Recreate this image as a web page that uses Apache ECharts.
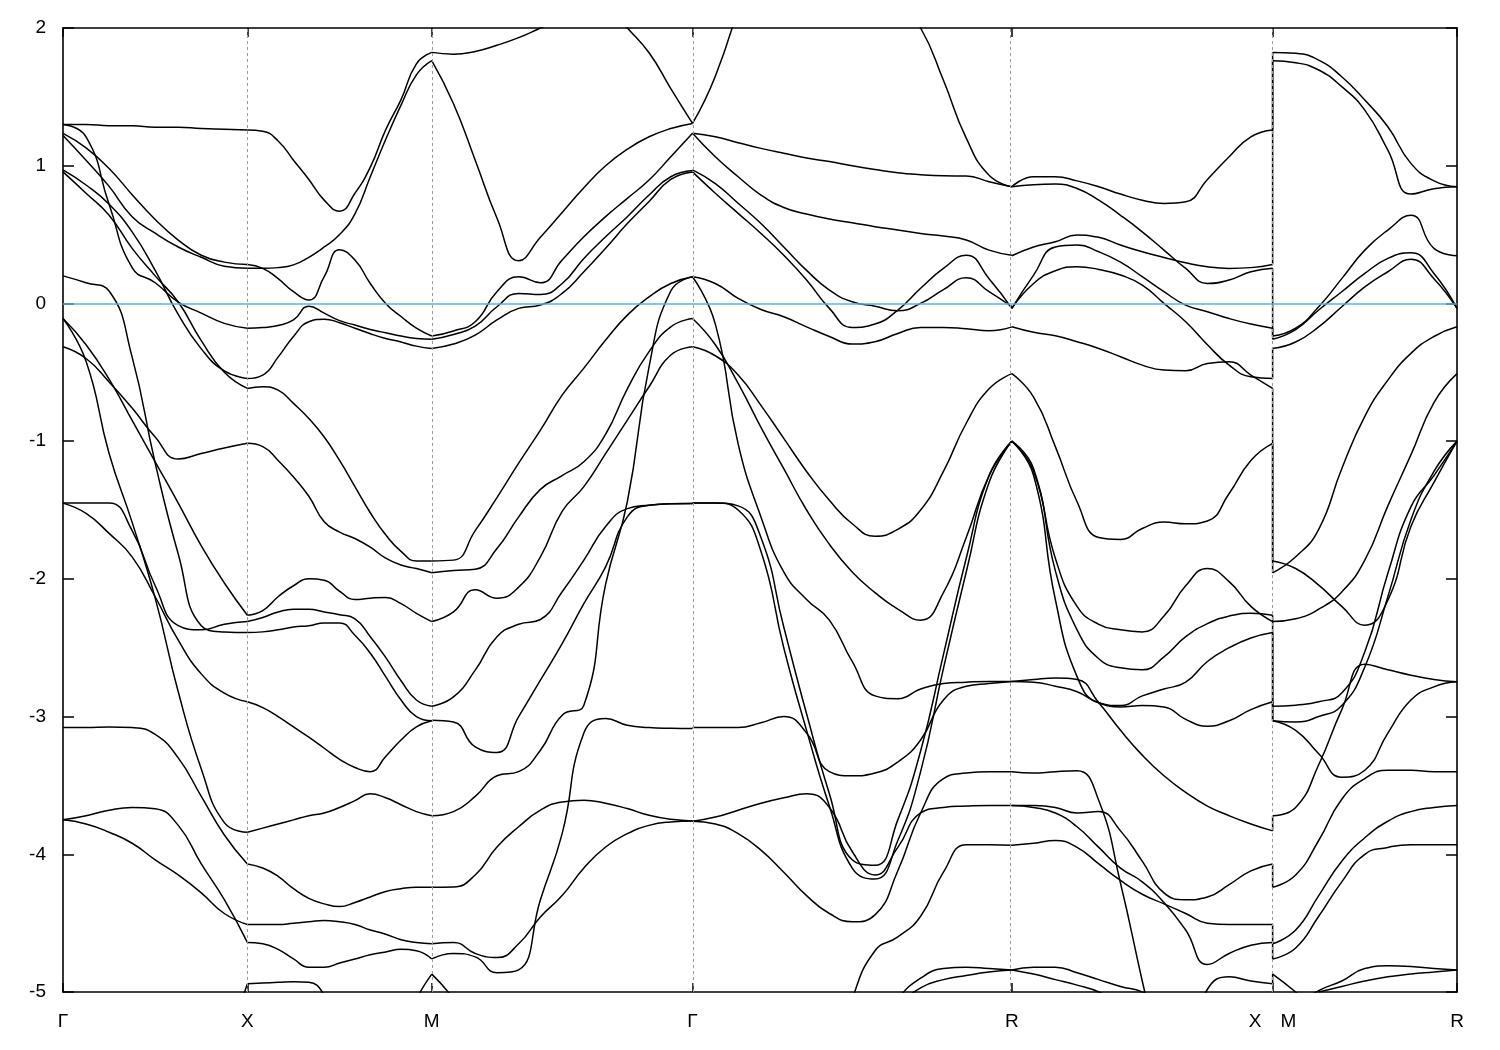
<!DOCTYPE html>
<html><head><meta charset="utf-8">
<script src="https://cdn.jsdelivr.net/npm/echarts@6/dist/echarts.min.js"></script>
<style>html,body{margin:0;padding:0;background:#fff}#c{width:1500px;height:1050px}</style>
</head><body><div id="c"></div>
<script>
// high-symmetry points (path length) and labels
const kPoints = [0, 0.5, 1.0, 1.7071, 2.5731, 3.2802, 3.7802];
const kLabels = ['Γ', 'X', 'M', 'Γ', 'R', 'X\u2002\u2002M', 'R'];
const yTicks = [-5, -4, -3, -2, -1, 0, 1, 2];
const fermiLevel = 0;

// Γ-X (9 samples)
const bandsGX = [
 [1.30,1.30,1.29,1.29,1.28,1.28,1.27,1.265,1.26],
 [1.30,1.21,0.72,0.26,0.15,0.01,-0.07,-0.145,-0.18],
 [1.235,1.13,0.98,0.79,0.61,0.46,0.35,0.30,0.283],
 [1.22,1.04,0.85,0.63,0.51,0.41,0.335,0.27,0.255],
 [0.97,0.86,0.72,0.52,0.24,-0.08,-0.33,-0.49,-0.545],
 [0.955,0.80,0.64,0.40,0.20,0.01,-0.27,-0.50,-0.617],
 [0.20,0.15,0.09,-0.39,-1.16,-1.82,-2.34,-2.385,-2.39],
 [-0.11,-0.42,-1.09,-1.59,-2.14,-2.82,-3.38,-3.77,-3.84],
 [-0.11,-0.30,-0.55,-0.85,-1.15,-1.45,-1.76,-2.03,-2.264],
 [-0.315,-0.40,-0.57,-0.76,-0.97,-1.13,-1.09,-1.05,-1.016],
 [-1.45,-1.45,-1.45,-1.65,-2.05,-2.34,-2.37,-2.33,-2.31],
 [-1.45,-1.525,-1.67,-1.84,-2.13,-2.445,-2.69,-2.83,-2.893],
 [-3.08,-3.08,-3.075,-3.08,-3.13,-3.30,-3.58,-3.86,-4.07],
 [-3.75,-3.72,-3.68,-3.66,-3.67,-3.79,-4.07,-4.33,-4.64],
 [-3.75,-3.78,-3.84,-3.92,-4.04,-4.15,-4.28,-4.43,-4.51],
 [null,null,null,null,null,null,-6.0,-5.45,-4.94]
];
// X-M (13 samples)
const bandsXM = [
 [1.26,1.25,1.18,1.04,0.90,0.75,0.67,0.80,0.99,1.26,1.48,1.74,1.823],
 [0.255,0.255,0.26,0.28,0.335,0.41,0.50,0.65,0.92,1.19,1.44,1.66,1.763],
 [0.283,0.255,0.18,0.085,0.025,0.195,0.39,0.315,0.145,0.0,-0.095,-0.18,-0.237],
 [-0.18,-0.175,-0.16,-0.12,-0.02,-0.07,-0.125,-0.157,-0.19,-0.213,-0.237,-0.254,-0.26],
 [-0.545,-0.52,-0.39,-0.24,-0.133,-0.114,-0.14,-0.18,-0.22,-0.254,-0.28,-0.31,-0.327],
 [-0.617,-0.605,-0.63,-0.726,-0.835,-0.97,-1.14,-1.33,-1.52,-1.68,-1.80,-1.87,-1.87],
 [-1.016,-1.04,-1.14,-1.26,-1.40,-1.586,-1.66,-1.707,-1.77,-1.85,-1.90,-1.925,-1.956],
 [-2.264,-2.23,-2.13,-2.05,-2.0,-2.01,-2.09,-2.15,-2.14,-2.135,-2.18,-2.25,-2.31],
 [-2.31,-2.28,-2.24,-2.22,-2.22,-2.24,-2.26,-2.29,-2.42,-2.57,-2.74,-2.88,-2.925],
 [-2.39,-2.385,-2.37,-2.35,-2.34,-2.32,-2.32,-2.41,-2.54,-2.71,-2.88,-3.0,-3.03],
 [-2.893,-2.935,-3.0,-3.075,-3.15,-3.23,-3.31,-3.37,-3.40,-3.29,-3.17,-3.075,-3.03],
 [-3.84,-3.81,-3.78,-3.75,-3.72,-3.70,-3.66,-3.61,-3.56,-3.59,-3.64,-3.69,-3.72],
 [-4.07,-4.10,-4.16,-4.25,-4.32,-4.36,-4.38,-4.35,-4.31,-4.27,-4.25,-4.24,-4.24],
 [-4.51,-4.51,-4.51,-4.50,-4.49,-4.48,-4.49,-4.51,-4.55,-4.58,-4.62,-4.64,-4.65],
 [-4.64,-4.65,-4.69,-4.76,-4.82,-4.82,-4.79,-4.76,-4.73,-4.71,-4.69,-4.70,-4.76],
 [-4.94,-4.935,-4.93,-4.925,-4.93,-5.02,-5.25,null,null,null,null,null,null],
 [null,null,null,null,null,null,null,null,null,null,-5.3,-5.05,-4.87]
];
// M-Γ (13 samples)
const bandsMG = [
 [1.823,1.81,1.83,1.875,1.93,2.0,2.07,2.15,2.25,null,null,null,null],
 [null,null,null,null,null,null,null,2.35,2.17,2.0,1.82,1.56,1.307],
 [1.763,1.45,1.04,0.62,0.31,0.48,0.66,0.84,1.0,1.12,1.21,1.27,1.307],
 [-0.237,-0.20,-0.133,0.085,0.194,0.15,0.315,0.484,0.63,0.763,0.896,1.065,1.235],
 [-0.26,-0.225,-0.165,-0.024,0.073,0.065,0.145,0.327,0.484,0.63,0.787,0.92,0.965],
 [-0.327,-0.295,-0.23,-0.12,-0.036,-0.012,0.073,0.23,0.40,0.58,0.74,0.90,0.955],
 [-1.87,-1.864,-1.65,-1.41,-1.16,-0.92,-0.666,-0.47,-0.266,-0.085,0.048,0.145,0.194],
 [-1.956,-1.94,-1.93,-1.78,-1.55,-1.35,-1.25,-1.15,-0.95,-0.62,-0.35,-0.17,-0.11],
 [-2.31,-2.24,-2.08,-2.14,-2.06,-1.84,-1.51,-1.33,-1.09,-0.847,-0.605,-0.375,-0.315],
 [-2.925,-2.857,-2.663,-2.42,-2.33,-2.295,-2.094,-1.864,-1.62,-1.49,-1.465,-1.455,-1.453],
 [-3.027,-3.04,-3.22,-3.26,-3.0,-2.736,-2.47,-2.18,-1.913,-1.55,-1.465,-1.455,-1.453],
 [-3.72,-3.69,-3.58,-3.43,-3.40,-3.244,-2.99,-2.917,-2.04,-1.44,-0.46,0.09,0.194],
 [-4.24,-4.237,-4.15,-3.947,-3.80,-3.68,-3.62,-3.608,-3.63,-3.668,-3.717,-3.746,-3.758],
 [-4.65,-4.64,-4.72,-4.75,-4.65,-4.455,-4.30,-4.10,-3.947,-3.85,-3.79,-3.765,-3.758],
 [-4.76,-4.72,-4.745,-4.86,-4.84,-4.33,-3.85,-3.12,-3.014,-3.063,-3.08,-3.085,-3.087],
 [-4.87,-5.05,-5.3,null,null,null,null,null,null,null,null,null,null]
];
// Γ-R (15 samples)
const bandsGR = [
 [1.307,1.65,2.15,null,null,null,null,null,null,null,null,null,null,null,null],
 [null,null,null,null,null,null,null,null,null,2.2,2.0,1.62,1.20,0.93,0.847],
 [1.235,1.21,1.167,1.126,1.09,1.056,1.03,1.0,0.973,0.949,0.935,0.927,0.925,0.884,0.847],
 [1.235,1.065,0.92,0.787,0.697,0.649,0.613,0.586,0.557,0.533,0.508,0.489,0.46,0.387,0.35],
 [0.955,0.80,0.654,0.508,0.35,0.17,-0.036,-0.174,-0.15,-0.048,0.11,0.254,0.35,0.18,-0.036],
 [0.97,0.87,0.727,0.58,0.41,0.24,0.097,0.012,-0.02,-0.053,0.0,0.10,0.186,0.085,-0.024],
 [0.194,0.145,0.036,-0.044,-0.097,-0.17,-0.24,-0.295,-0.278,-0.218,-0.174,-0.174,-0.184,-0.198,-0.17],
 [0.194,-0.15,-1.02,-1.55,-1.95,-2.15,-2.3,-2.6,-2.85,-2.87,-2.8,-2.76,-2.75,-2.745,-2.745],
 [-0.11,-0.3,-0.58,-0.9,-1.2,-1.5,-1.75,-1.95,-2.1,-2.22,-2.3,-2.1,-1.7,-1.25,-1.0],
 [-0.315,-0.38,-0.52,-0.74,-0.98,-1.22,-1.43,-1.60,-1.69,-1.64,-1.50,-1.22,-0.87,-0.62,-0.51],
 [-1.45,-1.45,-1.47,-1.70,-2.35,-2.98,-3.56,-4.04,-4.08,-3.75,-3.25,-2.55,-1.85,-1.25,-1.0],
 [-1.45,-1.45,-1.50,-1.80,-2.50,-3.10,-3.65,-4.10,-4.18,-3.90,-3.40,-2.65,-1.95,-1.30,-1.0],
 [-3.08,-3.08,-3.08,-3.045,-3.0,-3.12,-3.40,-3.43,-3.41,-3.33,-3.17,-2.88,-2.78,-2.76,-2.745],
 [-3.76,-3.73,-3.68,-3.63,-3.59,-3.56,-3.66,-3.98,-4.15,-3.95,-3.70,-3.66,-3.65,-3.645,-3.645],
 [-3.76,-3.78,-3.85,-3.97,-4.13,-4.30,-4.43,-4.49,-4.44,-4.12,-3.70,-3.45,-3.41,-3.40,-3.40],
 [null,null,null,null,null,null,-5.6,-5.05,-4.70,-4.60,-4.45,-4.13,-3.93,-3.93,-3.935],
 [null,null,null,null,null,null,null,null,-5.3,-5.05,-4.90,-4.83,-4.82,-4.83,-4.84],
 [null,null,null,null,null,null,null,null,null,-5.1,-4.97,-4.91,-4.88,-4.855,-4.84]
];
// R-X (13 samples)
const bandsRX = [
 [0.847,0.92,0.92,0.89,0.847,0.794,0.75,0.726,0.738,0.90,1.065,1.21,1.26],
 [0.847,0.862,0.867,0.835,0.75,0.64,0.52,0.387,0.254,0.145,0.17,0.23,0.255],
 [0.346,0.41,0.448,0.496,0.48,0.424,0.375,0.334,0.295,0.266,0.254,0.26,0.283],
 [-0.036,0.206,0.41,0.424,0.375,0.30,0.194,0.085,-0.012,-0.06,-0.11,-0.15,-0.18],
 [-0.036,0.145,0.237,0.266,0.247,0.206,0.133,0.0,-0.133,-0.30,-0.448,-0.533,-0.545],
 [-0.17,-0.21,-0.235,-0.278,-0.327,-0.387,-0.448,-0.484,-0.489,-0.436,-0.424,-0.52,-0.617],
 [-0.51,-0.68,-1.04,-1.44,-1.70,-1.714,-1.634,-1.588,-1.60,-1.58,-1.38,-1.14,-1.016],
 [-1.0,-1.20,-1.94,-2.37,-2.58,-2.646,-2.66,-2.566,-2.42,-2.325,-2.27,-2.25,-2.264],
 [-1.0,-1.22,-1.85,-2.2,-2.33,-2.37,-2.385,-2.27,-2.05,-1.925,-2.02,-2.2,-2.31],
 [-1.0,-1.25,-2.15,-2.71,-2.9,-2.92,-2.85,-2.8,-2.75,-2.6,-2.5,-2.43,-2.39],
 [-2.745,-2.73,-2.72,-2.73,-2.9,-3.1,-3.28,-3.43,-3.55,-3.65,-3.72,-3.78,-3.83],
 [-2.745,-2.75,-2.78,-2.82,-2.9,-2.93,-2.92,-2.93,-3.02,-3.07,-3.03,-2.95,-2.893],
 [-3.40,-3.41,-3.40,-3.394,-3.61,-4.21,-4.92,-5.6,null,null,null,null,null],
 [-3.645,-3.646,-3.66,-3.70,-3.69,-3.83,-4.05,-4.28,-4.33,-4.31,-4.22,-4.12,-4.07],
 [-3.645,-3.66,-3.70,-3.80,-3.95,-4.1,-4.2,-4.35,-4.55,-4.80,-4.72,-4.66,-4.64],
 [-3.935,-3.92,-3.90,-3.95,-4.07,-4.19,-4.29,-4.36,-4.43,-4.50,-4.51,-4.51,-4.51],
 [-4.84,-4.82,-4.82,-4.86,-4.91,-4.96,-5.0,-5.1,null,null,null,null,null],
 [-4.84,-4.87,-4.91,-4.95,-5.0,-5.1,null,null,null,null,null,null,null],
 [null,null,null,null,null,null,null,null,-5.4,-4.98,-4.89,-4.92,-4.94]
];
// M-R (9 samples)
const bandsMR = [
 [1.823,1.816,1.767,1.646,1.477,1.283,1.017,0.89,0.847],
 [1.763,1.748,1.695,1.574,1.404,1.114,0.794,0.833,0.847],
 [-0.237,-0.18,-0.024,0.18,0.387,0.533,0.64,0.40,0.346],
 [-0.26,-0.19,-0.048,0.085,0.218,0.327,0.368,0.218,-0.036],
 [-0.327,-0.28,-0.17,-0.024,0.12,0.23,0.32,0.18,-0.036],
 [-1.956,-1.84,-1.64,-1.2,-0.82,-0.557,-0.363,-0.24,-0.17],
 [-1.87,-1.925,-2.046,-2.2,-2.337,-2.155,-1.62,-1.30,-1.0],
 [-2.31,-2.29,-2.22,-2.095,-1.864,-1.47,-1.10,-0.72,-0.51],
 [-2.925,-2.917,-2.893,-2.828,-2.53,-1.96,-1.477,-1.25,-1.0],
 [-3.03,-3.04,-3.0,-2.92,-2.64,-2.13,-1.57,-1.22,-1.0],
 [-3.03,-3.1,-3.27,-3.44,-3.39,-3.12,-2.88,-2.784,-2.748],
 [-3.72,-3.66,-3.35,-2.95,-2.62,-2.66,-2.70,-2.73,-2.748],
 [-4.24,-4.15,-3.9,-3.6,-3.45,-3.39,-3.39,-3.40,-3.40],
 [-4.65,-4.55,-4.3,-4.05,-3.88,-3.76,-3.69,-3.66,-3.646],
 [-4.76,-4.68,-4.45,-4.2,-4.0,-3.95,-3.93,-3.93,-3.93],
 [-4.87,-5.0,-5.15,null,null,null,null,null,null],
 [null,-5.1,-4.99,-4.92,-4.83,-4.81,-4.815,-4.83,-4.84],
 [null,null,-5.0,-4.96,-4.92,-4.89,-4.87,-4.855,-4.84]
];

const segments = [
  [kPoints[0], kPoints[1], bandsGX],
  [kPoints[1], kPoints[2], bandsXM],
  [kPoints[2], kPoints[3], bandsMG],
  [kPoints[3], kPoints[4], bandsGR],
  [kPoints[4], kPoints[5], bandsRX],
  [kPoints[5], kPoints[6], bandsMR]
];

const lineStyle = {color: '#000', width: 1.5};
const series = [];
segments.forEach(([k0, k1, bands]) => {
  bands.forEach(b => {
    const n = b.length;
    const data = [];
    b.forEach((e, i) => { if (e !== null) data.push([k0 + (k1 - k0) * i / (n - 1), e]); });
    series.push({type: 'line', data, showSymbol: false, smooth: 0.5,
      lineStyle, silent: true, z: 3, clip: true});
  });
});
// discontinuity X|M: connect band i at X to band i at M (bands sorted by energy)
const endX = bandsRX.map(b => b[b.length - 1]).filter(v => v !== null).sort((a, b) => b - a);
const startM = bandsMR.map(b => b[0]).filter(v => v !== null).sort((a, b) => b - a);
const nJ = Math.min(endX.length, startM.length);
for (let i = 0; i < nJ; i++) {
  series.push({type: 'line', data: [[kPoints[5], endX[i]], [kPoints[5], startM[i]]], showSymbol: false,
    lineStyle, silent: true, z: 3});
}
// guides: dashed verticals at symmetry points and the Fermi level
series.push({type: 'line', data: [], silent: true, z: 1,
  markLine: {silent: true, symbol: 'none', label: {show: false}, animation: false,
    lineStyle: {color: '#9a9a9a', type: [3, 3], width: 1},
    data: kPoints.slice(1, -1).map(k => ({xAxis: k}))}});
series.push({type: 'line', data: [], silent: true, z: 5,
  markLine: {silent: true, symbol: 'none', label: {show: false}, animation: false,
    lineStyle: {color: '#56B4E9', type: 'solid', width: 1.6},
    data: [{yAxis: fermiLevel}]}});

const font = 'Liberation Sans, Arial, sans-serif';
const axLine = {show: true, onZero: false, lineStyle: {color: '#000', width: 1.6}};
const tickStyle = {color: '#000', width: 1.5};
const kmin = kPoints[0], kmax = kPoints[kPoints.length - 1];
function kLabel(v) {
  for (let i = 0; i < kPoints.length; i++) if (Math.abs(kPoints[i] - v) < 1e-6) return kLabels[i];
  return '';
}
const option = {
  animation: false,
  backgroundColor: '#fff',
  grid: {left: 63, right: 43, top: 28, bottom: 58, containLabel: false},
  xAxis: [
    {type: 'value', min: kmin, max: kmax, position: 'bottom', axisLine: axLine,
     axisTick: {show: true, inside: true, length: 9, customValues: kPoints, lineStyle: tickStyle},
     axisLabel: {show: true, customValues: kPoints, formatter: kLabel, color: '#000', fontSize: 19,
       fontFamily: font, margin: 20},
     splitLine: {show: false}},
    {type: 'value', min: kmin, max: kmax, position: 'top', axisLine: axLine,
     axisTick: {show: true, inside: true, length: 9, customValues: kPoints, lineStyle: tickStyle},
     axisLabel: {show: false}, splitLine: {show: false}}
  ],
  yAxis: [
    {type: 'value', min: yTicks[0], max: yTicks[yTicks.length - 1], interval: 1, position: 'left',
     axisLine: axLine, axisTick: {show: true, inside: true, length: 11, lineStyle: tickStyle},
     axisLabel: {color: '#000', fontSize: 19, fontFamily: font, margin: 17},
     splitLine: {show: false}},
    {type: 'value', min: yTicks[0], max: yTicks[yTicks.length - 1], interval: 1, position: 'right',
     axisLine: axLine, axisTick: {show: true, inside: true, length: 11, lineStyle: tickStyle},
     axisLabel: {show: false}, splitLine: {show: false}}
  ],
  series
};
const chart = echarts.init(document.getElementById('c'), null, {renderer: 'canvas'});
chart.setOption(option);
</script>
</body></html>
